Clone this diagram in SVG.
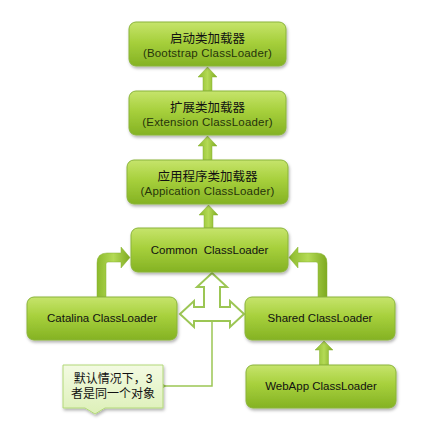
<svg xmlns="http://www.w3.org/2000/svg" width="434" height="442" viewBox="0 0 434 442">
<defs>
<linearGradient id="boxg" x1="0" y1="0" x2="0" y2="1">
<stop offset="0" stop-color="#c6e46c"/>
<stop offset="0.45" stop-color="#a7d03c"/>
<stop offset="1" stop-color="#84b223"/>
</linearGradient>
<linearGradient id="arrv" x1="0" y1="0" x2="1" y2="0">
<stop offset="0" stop-color="#8cba2c"/>
<stop offset="0.5" stop-color="#b4da55"/>
<stop offset="1" stop-color="#7eaa20"/>
</linearGradient>
<linearGradient id="callg" x1="0" y1="0" x2="0" y2="1">
<stop offset="0" stop-color="#f3fae2"/>
<stop offset="1" stop-color="#ddf0b8"/>
</linearGradient>
<filter id="sh" x="-10%" y="-10%" width="125%" height="135%">
<feDropShadow dx="1" dy="2" stdDeviation="1.5" flood-color="#000" flood-opacity="0.3"/>
</filter>
<marker id="chev" markerWidth="12" markerHeight="14" refX="1" refY="7" orient="auto" markerUnits="userSpaceOnUse">
<path d="M11,1 L1,7 L11,13" fill="none" stroke="#9cc654" stroke-width="1.5"/>
</marker>
</defs>
<style>
.box{fill:url(#boxg);stroke:#8ab43a;stroke-width:1;filter:url(#sh)}
.arr{fill:url(#arrv);stroke:#86b030;stroke-width:0.5}
.t1{font-family:"Liberation Sans","Noto Sans CJK SC",sans-serif;font-size:12.5px;fill:#111;text-anchor:middle}
.t2{font-family:"Liberation Sans","Noto Sans CJK SC",sans-serif;font-size:11.5px;letter-spacing:0.2px;fill:#26340a;text-anchor:middle}
.t3{font-family:"Liberation Sans",sans-serif;font-size:11.5px;fill:#111;text-anchor:middle}
.tc{font-family:"Liberation Sans","Noto Sans CJK SC",sans-serif;font-size:12px;fill:#111;text-anchor:middle}
</style>
<rect width="434" height="442" fill="#fff"/>
<g id="connectors">
<path class="arr" d="M207.5,67 L217,77 L212,77 L212,91 L203,91 L203,77 L198,77 Z"/>
<path class="arr" d="M207.5,136 L217,146 L212,146 L212,160 L203,160 L203,146 L198,146 Z"/>
<path class="arr" d="M208.5,205 L218,215 L213,215 L213,228 L204,228 L204,215 L199,215 Z"/>
<path class="arr" d="M324,341 L333,350 L328.5,350 L328.5,365 L319.5,365 L319.5,350 L315,350 Z"/>
<path class="arr" d="M97,297 L97,263 Q97,253 107,253 L121,253 L121,247 L130,257.5 L121,268 L121,262 L108,262 Q106,262 106,264 L106,297 Z"/>
<path class="arr" d="M327,297 L327,263 Q327,253 317,253 L298,253 L298,247 L289,257.5 L298,268 L298,262 L316,262 Q318,262 318,264 L318,297 Z"/>
<path d="M212,273 L227,287 L220,287 L220,307 L230,307 L230,301 L244,314 L230,327 L230,321 L194,321 L194,327 L180,314 L194,301 L194,307 L204,307 L204,287 L197,287 Z" fill="#fff" stroke="#9cc654" stroke-width="2" stroke-linejoin="miter"/>
<path d="M212,321 L212,386 L165,386" fill="none" stroke="#9cc654" stroke-width="1.5" marker-end="url(#chev)"/>
</g>
<g id="bootstrap">
<rect class="box" x="129" y="22" width="157" height="44" rx="7"/>
<text class="t1" x="207.5" y="43">启动类加载器</text>
<text class="t2" x="207.5" y="57">(Bootstrap ClassLoader)</text>
</g>
<g id="extension">
<rect class="box" x="129" y="91" width="157" height="44" rx="7"/>
<text class="t1" x="207.5" y="112">扩展类加载器</text>
<text class="t2" x="207.5" y="126">(Extension ClassLoader)</text>
</g>
<g id="application">
<rect class="box" x="127" y="160" width="161" height="44" rx="7"/>
<text class="t1" x="207.5" y="181">应用程序类加载器</text>
<text class="t2" x="207.5" y="195">(Appication ClassLoader)</text>
</g>
<g id="common">
<rect class="box" x="131" y="228" width="157" height="44" rx="7"/>
<text class="t3" x="209.5" y="254" xml:space="preserve">Common  ClassLoader</text>
</g>
<g id="catalina">
<rect class="box" x="27" y="297" width="150" height="43" rx="7"/>
<text class="t3" x="102" y="322">Catalina ClassLoader</text>
</g>
<g id="shared">
<rect class="box" x="245" y="297" width="150" height="43" rx="7"/>
<text class="t3" x="320" y="322">Shared ClassLoader</text>
</g>
<g id="webapp">
<rect class="box" x="246" y="365" width="150" height="43" rx="7"/>
<text class="t3" x="321" y="390">WebApp ClassLoader</text>
</g>
<g id="callout">
<path d="M63,365 L163,365 L163,408 L105,408 L95,414 L85,408 L63,408 Z" fill="url(#callg)" stroke="#b2d878" stroke-width="1" filter="url(#sh)"/>
<text class="tc" x="113" y="383">默认情况下，3</text>
<text class="tc" x="113" y="398">者是同一个对象</text>
</g>
</svg>
